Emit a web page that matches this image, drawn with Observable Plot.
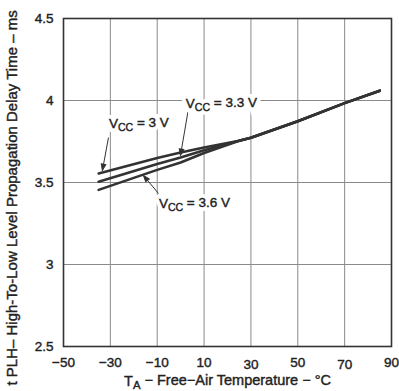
<!DOCTYPE html>
<html>
<head>
<meta charset="utf-8">
<script src="https://cdn.jsdelivr.net/npm/d3@7"></script>
<script src="https://cdn.jsdelivr.net/npm/@observablehq/plot@0.6"></script>
<style>
  html, body { margin: 0; padding: 0; background: #fff; }
  svg { font-family: "Liberation Sans", Arial, Helvetica, sans-serif; }
  svg text { stroke: #222; stroke-width: 0.4px; }
  svg g.halo text, svg g.halo { stroke: #fff; stroke-width: 8px; }
</style>
</head>
<body>
<div id="chart"></div>
<script>
// ---- data ----
const temps = [-35, -10, 0, 10, 25, 30, 50, 70, 85];
const vcc30 = [3.555, 3.649, 3.683, 3.713, 3.755, 3.773, 3.874, 3.984, 4.06];
const vcc33 = [3.505, 3.613, 3.652, 3.697, 3.755, 3.773, 3.874, 3.984, 4.06];
const vcc36 = [3.455, 3.577, 3.622, 3.680, 3.755, 3.773, 3.874, 3.984, 4.06];
const seriesNames = ["3 V", "3.3 V", "3.6 V"];
const xTicksHigh = [-50, -30, -10, 10, 50, 90];
const xTicksLow = [30, 70];
const xGrid = [-50, -30, -10, 10, 30, 50, 70, 90];
const yTicks = [2.5, 3, 3.5, 4, 4.5];

// annotation labels and arrows (data units)
const labelText = ["VCC = 3 V", "VCC = 3.3 V", "VCC = 3.6 V"];
const labelX = [-17.8, 17.4, 5.9];
const labelY = [3.86, 3.982, 3.372];
const arrowX1 = [-30.8, 3.35, -9.45];
const arrowY1 = [3.774, 3.951, 3.433];
const arrowX2 = [-33.4, -0.07, -15.9];
const arrowY2 = [3.573, 3.665, 3.543];

const xLabel = "TA − Free−Air Temperature − °C";
const yLabel = "t PLH– High-To-Low Level Propagation Delay Time – ms";

// ---- build tables ----
const allSeries = [vcc30, vcc33, vcc36];
const rows = [];
allSeries.forEach((vals, s) => temps.forEach((t, i) => rows.push({series: seriesNames[s], t, v: vals[i]})));
const labels = labelText.map((text, i) => ({text, x: labelX[i], y: labelY[i]}));
const arrows = arrowX1.map((x1, i) => ({x1, y1: arrowY1[i], x2: arrowX2[i], y2: arrowY2[i]}));

const ink = "#222";
const fmt = d => (d < 0 ? "−" + Math.abs(d) : String(d));
const chart = Plot.plot({
  width: 399,
  height: 391,
  marginLeft: 63,
  marginRight: 8,
  marginTop: 18,
  marginBottom: 45,
  style: {fontFamily: '"Liberation Sans", Arial, Helvetica, sans-serif', color: ink, background: "#fff"},
  x: {domain: [-50, 90]},
  y: {domain: [2.5, 4.5]},
  marks: [
    Plot.gridX(xGrid, {stroke: "#8a8a8a", strokeOpacity: 1, strokeWidth: 1}),
    Plot.gridY(yTicks, {stroke: "#8a8a8a", strokeOpacity: 1, strokeWidth: 1}),
    Plot.frame({stroke: "#333", strokeWidth: 1.6}),
    Plot.axisX(xTicksHigh, {tickSize: 0, tickPadding: 11, fontSize: 13.5, fill: ink, label: null, tickFormat: fmt}),
    Plot.axisX(xTicksLow, {tickSize: 0, tickPadding: 13, fontSize: 13.5, fill: ink, label: null, tickFormat: fmt}),
    Plot.axisY(yTicks, {tickSize: 0, tickPadding: 10, fontSize: 13.5, fill: ink, label: null,
      tickFormat: d => String(d)}),
    Plot.line(rows, {x: "t", y: "v", z: "series", stroke: "#333", strokeWidth: 2.6}),
    Plot.arrow(arrows, {x1: "x1", y1: "y1", x2: "x2", y2: "y2", stroke: "#333", fill: "#333", strokeWidth: 1,
      headLength: 11, headAngle: 40, strokeLinecap: "butt", strokeLinejoin: "miter"}),
    Plot.text(labels, {x: "x", y: "y", text: "text", fontSize: 13.5, fill: "#fff", className: "halo"}),
    Plot.text(labels, {x: "x", y: "y", text: "text", fontSize: 13.5, fill: ink}),
    Plot.text([xLabel], {frameAnchor: "bottom", dy: 39, fontSize: 14.5, fill: ink}),
    Plot.text([yLabel], {frameAnchor: "bottom-left", dx: -47, dy: 39, rotate: -90, textAnchor: "start",
      fontSize: 15, fill: ink})
  ]
});

// ---- subscripts ----
d3.select(chart).selectAll("text").each(function () {
  const el = d3.select(this);
  if (el.selectAll("tspan").size() > 0) return;
  const s = el.text();
  let parts = null;
  if (s.startsWith("VCC")) parts = [["V", false], ["CC", true], [s.slice(3), false]];
  else if (s.startsWith("TA ")) parts = [["T", false], ["A", true], [s.slice(2), false]];
  if (!parts) return;
  el.text(null);
  parts.forEach(([t, sub], i) => {
    const ts = el.append("tspan").text(t);
    if (sub) ts.attr("font-size", "0.78em").attr("dy", "0.28em");
    else if (i > 0) ts.attr("dy", "-0.28em");
  });
});

document.getElementById("chart").appendChild(chart);
</script>
</body>
</html>
